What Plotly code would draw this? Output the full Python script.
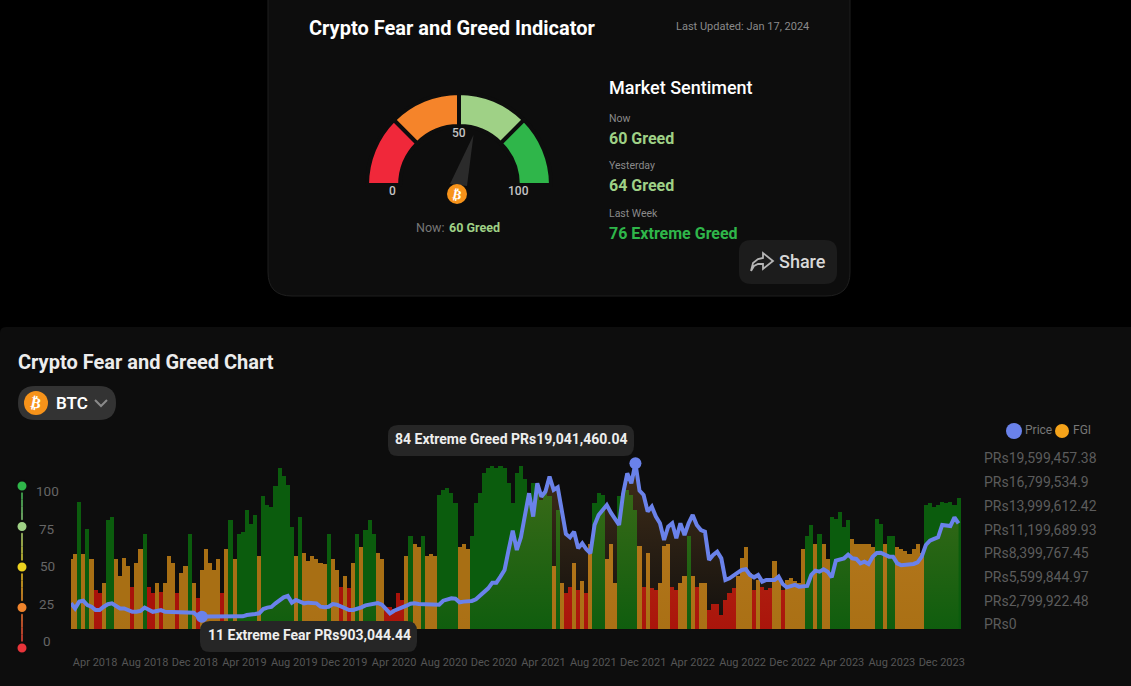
import pandas as pd
import plotly.graph_objects as go

W, H = 1131, 686
BG = "#0d0d0d"
FONT = "Roboto"

# one reading every ten days, Feb 2018 to Jan 2024
dates = pd.date_range("2018-02-01", periods=218, freq="10D")

fgi = [
    41, 44, 75, 44, 59, 41, 23, 21, 27, 64, 66, 41, 31, 42, 37, 25, 39, 47, 56, 25,
    21, 27, 22, 27, 43, 39, 21, 33, 37, 56, 27, 18, 35, 47, 39, 35, 41, 21,
    47, 64, 41, 56, 57, 70, 62, 67, 43, 78, 73, 72, 84, 95, 90, 85, 60, 43, 66, 45,
    40, 43, 41, 39, 38, 56, 41, 35, 25, 31, 24, 39, 56, 48, 58, 64, 56, 45, 41,
    13, 13, 12, 21, 17, 43, 55, 50, 48, 55, 43, 44, 43, 79, 82, 83, 80, 74, 48, 50,
    47, 55, 74, 80, 92, 95, 96, 95, 96, 95, 86, 74, 92, 96, 88, 80, 86, 80, 76,
    80, 78, 37, 70, 27, 21, 25, 39, 23, 28, 21, 50, 74, 80, 79, 41, 50, 27, 78, 80,
    82, 79, 70, 49, 25, 45, 24, 23, 27, 49, 50, 25, 23, 27, 31, 55, 31, 25, 27,
    27, 11, 15, 15, 8, 17, 21, 24, 31, 42, 48, 33, 23, 29, 25, 23, 24, 40, 29, 23,
    29, 30, 28, 27, 47, 55, 61, 50, 56, 50, 41, 66, 65, 69, 60, 64, 53, 50, 50,
    50, 50, 48, 65, 62, 50, 55, 55, 48, 47, 46, 44, 47, 50, 45, 73, 74, 72, 73, 75,
    74, 75, 73, 77,
]

# PKR millions
price_m = [
    2.5, 1.9, 2.7, 2.8, 2.3, 2.1, 1.7, 1.7, 2.1, 2.4, 2.5, 2.2, 1.9, 1.9, 1.7, 1.5,
    1.5, 1.6, 2.0, 1.8, 1.5, 1.6, 1.7, 1.5, 1.5, 1.5, 1.5, 1.5, 1.5, 1.5, 1.4, 0.98,
    0.90304444, 0.95, 0.95, 0.92, 0.92, 0.93,
    0.92, 0.92, 0.94, 0.95, 0.97, 1.12, 1.24, 1.24, 1.32, 1.83, 1.99, 2.07, 2.5, 2.89,
    3.2, 3.37, 2.58, 2.89, 2.74, 2.5, 2.58, 2.58, 2.5, 2.1, 2.03, 2.1, 2.42, 2.34, 2.1,
    1.83, 1.71, 1.71, 1.83, 2.03, 2.26, 2.38, 2.46, 2.54, 2.34,
    1.91, 1.32, 1.63, 1.79, 1.99, 2.22, 2.46, 2.5, 2.42, 2.38, 2.34, 2.34, 2.34, 2.34,
    2.81, 3.01, 3.09, 3.05, 2.62, 2.7, 2.74, 2.78, 2.97, 3.37, 3.88, 4.27, 4.94, 4.94,
    5.65, 6.44, 8.8, 11.08, 8.8, 10.3, 12.93, 15.5, 12.74, 16.67, 15.1,
    15.69, 17.46, 15.89, 16.2, 13.72, 10.69, 10.3, 10.96, 9.0, 9.59, 8.88, 8.41, 11.75,
    12.93, 13.52, 14.11, 13.2, 12.54, 11.75, 15.5, 17.85, 16.67, 19.04146004, 15.8, 15.3,
    13.33, 13.92, 12.74, 11.95, 9.98, 11.55, 11.95, 10.18, 11.95, 10.57, 11.95, 12.93,
    11.75, 11.16,
    10.96, 7.62, 8.21, 8.6, 7.81, 5.26, 5.45, 5.85, 6.12, 6.44, 6.52, 5.85, 5.57, 5.85,
    5.06, 5.26, 5.26, 5.26, 5.65, 4.78, 4.39, 4.55, 4.67, 4.47, 4.47, 4.55, 5.85, 6.36,
    6.24, 6.52, 6.24, 5.57, 7.54, 7.7, 7.81, 8.25, 7.81, 7.74, 7.22,
    7.42, 7.15, 8.01, 8.44, 8.48, 8.21, 8.01, 8.01, 7.22, 6.99, 7.03, 7.15, 7.15, 7.34,
    8.01, 9.39, 9.9, 10.1, 10.3, 11.75, 11.63, 11.63, 12.66, 11.95,
]
price = [p * 1e6 for p in price_m]

tick_months = pd.date_range("2018-04-01", "2023-12-01", freq="4MS")

price_ticks = [0, 2799922.48, 5599844.97, 8399767.45, 11199689.93,
               13999612.42, 16799534.9, 19599457.38]
price_labels = ["PRs0", "PRs2,799,922.48", "PRs5,599,844.97", "PRs8,399,767.45",
                "PRs11,199,689.93", "PRs13,999,612.42", "PRs16,799,534.9",
                "PRs19,599,457.38"]
# the price panel runs a little below PRs0, down to the foot of the bars
price_floor = -531000

scale_values = [0, 25, 50, 75, 100]
scale_colors = ["#e8343a", "#f0842c", "#ecd21f", "#9fd186", "#2fb64a"]

gauge_bands = [25, 25, 25, 25, 100]
gauge_colors = ["#f0283a", "#f5842a", "#9fd186", "#2fb64a", "rgba(0,0,0,0)"]


def px(x):
    return x / W


def py(y):
    return 1 - y / H


def rrect(x0, y0, x1, y1, r, fill, line=None):
    pts = [
        f"M{px(x0 + r)},{py(y0)}", f"L{px(x1 - r)},{py(y0)}",
        f"Q{px(x1)},{py(y0)} {px(x1)},{py(y0 + r)}", f"L{px(x1)},{py(y1 - r)}",
        f"Q{px(x1)},{py(y1)} {px(x1 - r)},{py(y1)}", f"L{px(x0 + r)},{py(y1)}",
        f"Q{px(x0)},{py(y1)} {px(x0)},{py(y1 - r)}", f"L{px(x0)},{py(y0 + r)}",
        f"Q{px(x0)},{py(y0)} {px(x0 + r)},{py(y0)}", "Z",
    ]
    return dict(type="path", xref="paper", yref="paper", path=" ".join(pts), fillcolor=fill,
                line=dict(color=line or fill, width=1 if line else 0))


def circle(cx, cy, r, fill):
    return dict(type="circle", xref="paper", yref="paper", x0=px(cx - r), x1=px(cx + r),
                y0=py(cy + r), y1=py(cy - r), fillcolor=fill, line=dict(width=0))


def poly(points, fill=None, stroke=None, width=0):
    path = "M" + " L".join(f"{px(x)},{py(y)}" for x, y in points)
    if fill:
        path += " Z"
    return dict(type="path", xref="paper", yref="paper", path=path,
                fillcolor=fill or "rgba(0,0,0,0)",
                line=dict(color=stroke or "rgba(0,0,0,0)", width=width))


def text(x, y, s, size, color, weight=400, anchor="left", angle=0, family=FONT):
    # annotations sit 2px in from their anchor
    if anchor == "left":
        x -= 2
    return dict(xref="paper", yref="paper", x=px(x), y=py(y), text=s, showarrow=False,
                xanchor=anchor, yanchor="middle", textangle=angle,
                font=dict(family=family, size=size, color=color, weight=weight))


def blend(c1, c2, t):
    a = [int(c1[i:i + 2], 16) for i in (1, 3, 5)]
    b = [int(c2[i:i + 2], 16) for i in (1, 3, 5)]
    rgb = [round(u + (v - u) * t) for u, v in zip(a, b)]
    return f"rgba({rgb[0]},{rgb[1]},{rgb[2]},0.75)"


def band_color(v):
    if v < 26:
        return "#a8120a"
    if v < 55:
        return "#a86f14"
    return "#0b5c0d"


fig = go.Figure()

fig.add_trace(go.Bar(x=dates, y=fgi, width=864000000, marker=dict(color=[band_color(v) for v in fgi], line=dict(width=0)),
                     hoverinfo="skip", xaxis="x", yaxis="y"))

fig.add_trace(go.Scatter(x=dates, y=[price_floor] * len(dates), mode="lines", line=dict(width=0),
                         xaxis="x", yaxis="y2", hoverinfo="skip"))
fig.add_trace(go.Scatter(x=dates, y=price, mode="lines", line=dict(color="#6a82ea", width=4),
                         fill="tonexty",
                         fillgradient=dict(type="vertical", start=price_floor, stop=price_ticks[-1],
                                           colorscale=[[0, "rgba(255,165,70,0.02)"], [1, "rgba(255,165,70,0.22)"]]),
                         xaxis="x", yaxis="y2", hoverinfo="skip", cliponaxis=False))

low_i = price.index(min(price))
high_i = price.index(max(price))
fig.add_trace(go.Scatter(x=[dates[low_i], dates[high_i]], y=[price[low_i], price[high_i]],
                         mode="markers", marker=dict(color="#6a82ea", size=12),
                         xaxis="x", yaxis="y2", hoverinfo="skip", cliponaxis=False))

# coloured scale at the far left
for i in range(len(scale_values) - 1):
    v0, v1 = scale_values[i], scale_values[i + 1]
    for k in range(6):
        fig.add_trace(go.Scatter(x=[0, 0], y=[v0 + (v1 - v0) * k / 6, v0 + (v1 - v0) * (k + 1) / 6],
                                 mode="lines", xaxis="x3", yaxis="y3", hoverinfo="skip",
                                 line=dict(width=2, color=blend(scale_colors[i], scale_colors[i + 1], (k + 0.5) / 6))))
fig.add_trace(go.Scatter(x=[0] * len(scale_values), y=scale_values, mode="markers", xaxis="x3", yaxis="y3",
                         hoverinfo="skip", cliponaxis=False,
                         marker=dict(size=11, color=scale_colors, line=dict(color=BG, width=2))))

fig.add_trace(go.Pie(values=gauge_bands, sort=False, direction="clockwise", rotation=270, hole=0.64,
                     domain=dict(x=[px(459 - 92), px(459 + 92)], y=[py(185 + 92), py(185 - 92)]),
                     marker=dict(colors=gauge_colors, line=dict(color=BG, width=[4, 4, 4, 4, 0])),
                     textinfo="none", hoverinfo="skip"))

shapes = [
    dict(rrect(268, -30, 850, 296, 24, BG, "#1f1f1f"), layer="below"),
    dict(rrect(0, 327, W + 10, H + 20, 6, BG), layer="below"),
    poly([(450, 184), (473.5, 135), (467, 186)], fill="#2b2b2b"),
    circle(457, 194, 10, "#f7931a"),
    rrect(739, 240, 837, 284, 12, "#1c1c1c"),
    rrect(18, 386, 116, 420, 17, "#333333"),
    circle(36, 403, 12, "#f7931a"),
    poly([(95, 400), (101, 406), (107, 400)], stroke="#8a8a8a", width=2),
    poly([(751, 271), (753, 263), (758, 259), (763, 258), (763, 253), (773, 261), (763, 269),
          (763, 264), (758, 264), (754, 266), (751, 271)], stroke="#b5b5b5", width=1.8),
    circle(1014, 431, 8, "#6a82ea"),
    circle(1062, 431, 7, "#f5a31a"),
    rrect(388, 425, 634, 456, 10, "#262626"),
    rrect(200, 621, 417, 652, 10, "#262626"),
]

annotations = [
    text(309, 28, "Crypto Fear and Greed Indicator", 20, "#ffffff", 700),
    text(676, 27, "Last Updated: Jan 17, 2024", 11, "#8a8a8a"),
    text(609, 87, "Market Sentiment", 18, "#ffffff", 500),
    text(609, 118, "Now", 10.5, "#8a8a8a"),
    text(609, 138, "60 Greed", 16, "#9fd186", 700),
    text(609, 165, "Yesterday", 10.5, "#8a8a8a"),
    text(609, 185, "64 Greed", 16, "#9fd186", 700),
    text(609, 213, "Last Week", 10.5, "#8a8a8a"),
    text(609, 234, "76 Extreme Greed", 16, "#2fb64a", 700),
    text(392, 191, "0", 12, "#c4c4c4", 500, "center"),
    text(459, 133, "50", 12, "#c4c4c4", 500, "center"),
    text(518, 191, "100", 12, "#c4c4c4", 500, "center"),
    text(416, 227, "Now:", 12.5, "#777777"),
    text(449, 227, "60 Greed", 12.5, "#9fd186", 700),
    text(457, 194, "₿", 13, "#ffffff", 700, "center", 12, "DejaVu Sans"),
    text(779, 261, "Share", 18, "#d8d8d8", 500),
    text(18, 362, "Crypto Fear and Greed Chart", 20, "#ececec", 700),
    text(36, 403, "₿", 15, "#ffffff", 700, "center", 12, "DejaVu Sans"),
    text(56, 403, "BTC", 17, "#ffffff", 600),
    text(1025, 430, "Price", 12, "#777777"),
    text(1073, 430, "FGI", 12, "#777777"),
    text(511, 439, "84 Extreme Greed PRs19,041,460.04", 14, "#eeeeee", 700, "center"),
    text(309, 635, "11 Extreme Fear PRs903,044.44", 14, "#eeeeee", 700, "center"),
    text(47, 491, "100", 13.5, "#666666", 400, "center"),
    text(47, 529, "75", 13.5, "#666666", 400, "center"),
    text(47, 566, "50", 13.5, "#666666", 400, "center"),
    text(47, 604, "25", 13.5, "#666666", 400, "center"),
    text(47, 641, "0", 13.5, "#666666", 400, "center"),
]

fig.update_layout(
    width=W, height=H, margin=dict(l=0, r=0, t=0, b=0, autoexpand=False), autosize=False,
    paper_bgcolor="#000000", plot_bgcolor="rgba(0,0,0,0)",
    showlegend=False, bargap=0, hovermode=False,
    font=dict(family=FONT),
    shapes=shapes, annotations=annotations,
    xaxis=dict(type="date", domain=[px(71), px(961)], range=["2018-02-01", "2024-01-17"],
               tickvals=tick_months, tickformat="%b %Y", showgrid=False, zeroline=False, showline=False,
               ticks="outside", ticklen=23, tickcolor="rgba(0,0,0,0)", automargin=False,
               tickfont=dict(size=11, color="#555555", family=FONT), anchor="y"),
    yaxis=dict(domain=[py(629), py(459)], range=[0, 100], visible=False, anchor="x", automargin=False),
    yaxis2=dict(domain=[py(629), py(458.5)], range=[price_floor, price_ticks[-1]], anchor="free", position=px(983),
                side="right", tickvals=price_ticks, ticktext=price_labels, showgrid=False, zeroline=False,
                showline=False, ticks="", automargin=False, tickfont=dict(size=14, color="#5c5c5c", family=FONT)),
    xaxis3=dict(domain=[px(12), px(32)], range=[-1, 1], visible=False, anchor="y3", automargin=False),
    yaxis3=dict(domain=[py(648), py(486)], range=[0, 100], visible=False, anchor="x3", automargin=False),
)

fig.write_html("out.html", config=dict(displayModeBar=False),
               post_script="document.body.style.margin='0';document.body.style.overflow='hidden';")
